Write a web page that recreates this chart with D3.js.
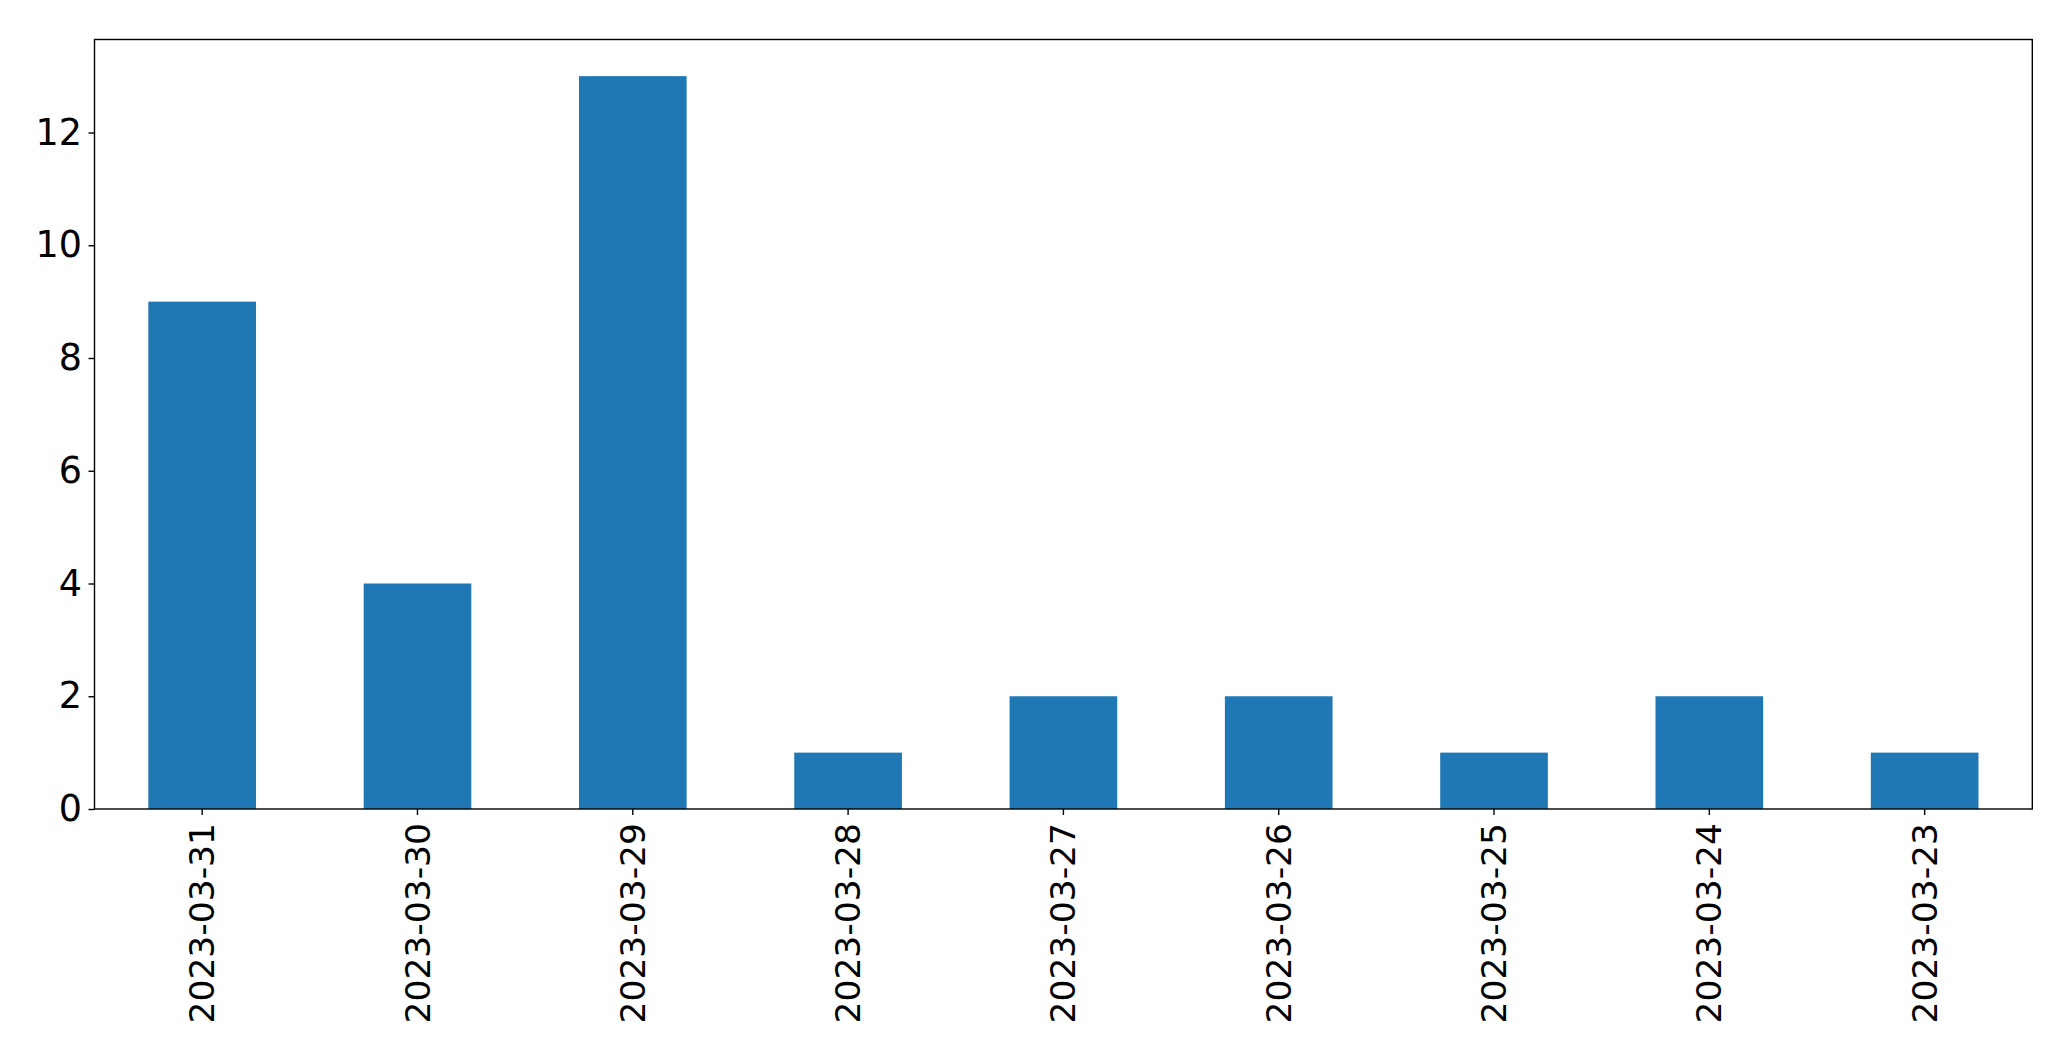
<!DOCTYPE html>
<html><head><meta charset="utf-8">
<script src="https://cdn.jsdelivr.net/npm/d3@7"></script>
<style>body{margin:0;background:#fff}</style>
</head><body>
<script>
const categories = ["2023-03-31","2023-03-30","2023-03-29","2023-03-28","2023-03-27","2023-03-26","2023-03-25","2023-03-24","2023-03-23"];
const values = [9,4,13,1,2,2,1,2,1];
const yTicks = [0,2,4,6,8,10,12];

const W = 2071, H = 1061;
const m = {left:94.5, right:2071-2032.3, top:39.5, bottom:1061-809};
const svg = d3.select("body").append("svg").attr("width",W).attr("height",H);
const x = d3.scaleBand().domain(categories).range([m.left, W-m.right]).paddingInner(0.5).paddingOuter(0.25);
const yMax = d3.max(values)*1.05;
const y = d3.scaleLinear().domain([0,yMax]).range([H-m.bottom, m.top]);

svg.append("g").selectAll("rect").data(values).join("rect")
  .attr("x",(d,i)=>x(categories[i]))
  .attr("width",x.bandwidth())
  .attr("y",d=>y(d))
  .attr("height",d=>y(0)-y(d))
  .attr("fill","#1f77b4");

const xa = svg.append("g").attr("transform",`translate(0,${H-m.bottom})`)
  .call(d3.axisBottom(x).tickSize(6).tickPadding(6).tickSizeOuter(0));
xa.select(".domain").remove();
xa.selectAll("line").attr("stroke","#000").attr("stroke-width",1.4);
xa.selectAll("text").attr("font-family","DejaVu Sans").attr("font-size",34.5).attr("fill","#000")
  .attr("transform","rotate(-90)").attr("text-anchor","end").attr("x",-14).attr("y",0).attr("dy","0.35em");

const ya = svg.append("g").attr("transform",`translate(${m.left},0)`)
  .call(d3.axisLeft(y).tickValues(yTicks).tickFormat(d3.format("d")).tickSize(6).tickPadding(6.5).tickSizeOuter(0));
ya.select(".domain").remove();
ya.selectAll("line").attr("stroke","#000").attr("stroke-width",1.4);
ya.selectAll("text").attr("font-family","DejaVu Sans").attr("font-size",36.5).attr("fill","#000");

svg.append("rect").attr("x",m.left).attr("y",m.top).attr("width",W-m.right-m.left).attr("height",H-m.bottom-m.top)
  .attr("fill","none").attr("stroke","#000").attr("stroke-width",1.4);
</script>
</body></html>
